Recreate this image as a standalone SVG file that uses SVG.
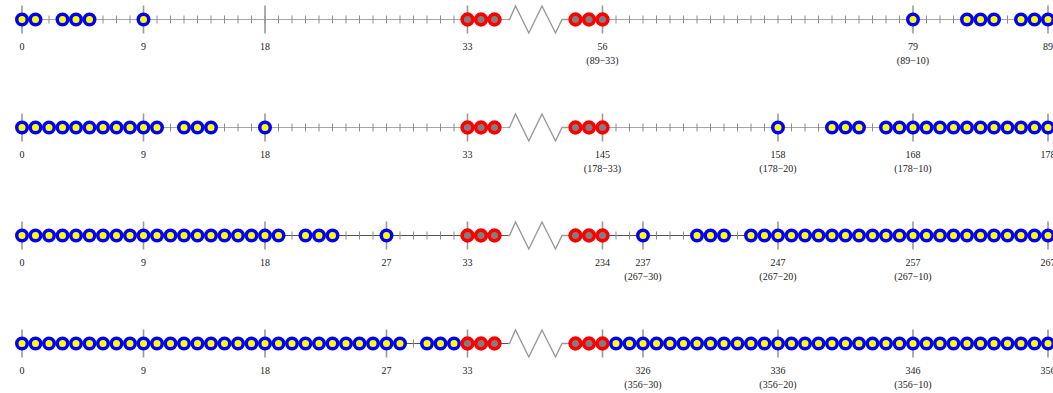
<svg xmlns="http://www.w3.org/2000/svg" xmlns:xlink="http://www.w3.org/1999/xlink" width="1053" height="393" viewBox="0 0 1053 393">
  <style>
    .axis { fill: none; stroke-width: 1; }
    .light { stroke: #a6a6a6; }
    .dark { stroke: #555555; }
    .minor { fill: none; stroke: #8c8c8c; stroke-width: 1; }
    .major { fill: none; stroke: #9a9a9a; stroke-width: 1.6; }
    .zig { fill: none; stroke: #9a9a9a; stroke-width: 1.4; stroke-linejoin: miter; }
    .bc { fill: #ffff00; stroke: #0000ff; stroke-width: 3.5; }
    .rc { fill: #7f7f7f; stroke: #ff0000; stroke-width: 3.6; }
    text { font-family: "Liberation Serif", "Times New Roman", serif; font-size: 10px; fill: #222222; text-anchor: middle; }
  </style>
  <defs>
    <circle id="b" r="5.25" class="bc"/>
    <circle id="r" r="5.4" class="rc"/>
    <!-- minor ticks at every slot: 0..35 on the left, 41..76 on the right (x = 22 + 13.5*slot) -->
    <path id="ticks" class="minor" d="M22,-4v8M35.5,-4v8M49,-4v8M62.5,-4v8M76,-4v8M89.5,-4v8M103,-4v8M116.5,-4v8M130,-4v8M143.5,-4v8M157,-4v8M170.5,-4v8M184,-4v8M197.5,-4v8M211,-4v8M224.5,-4v8M238,-4v8M251.5,-4v8M265,-4v8M278.5,-4v8M292,-4v8M305.5,-4v8M319,-4v8M332.5,-4v8M346,-4v8M359.5,-4v8M373,-4v8M386.5,-4v8M400,-4v8M413.5,-4v8M427,-4v8M440.5,-4v8M454,-4v8M467.5,-4v8M481,-4v8M494.5,-4v8M575.5,-4v8M589,-4v8M602.5,-4v8M616,-4v8M629.5,-4v8M643,-4v8M656.5,-4v8M670,-4v8M683.5,-4v8M697,-4v8M710.5,-4v8M724,-4v8M737.5,-4v8M751,-4v8M764.5,-4v8M778,-4v8M791.5,-4v8M805,-4v8M818.5,-4v8M832,-4v8M845.5,-4v8M859,-4v8M872.5,-4v8M886,-4v8M899.5,-4v8M913,-4v8M926.5,-4v8M940,-4v8M953.5,-4v8M967,-4v8M980.5,-4v8M994,-4v8M1007.5,-4v8M1021,-4v8M1034.5,-4v8M1048,-4v8"/>
    <!-- break symbol between the two halves of the axis -->
    <path id="zig" class="zig" d="M508,0H509.5L515.5,-13.5L528.8,13.5L542,-13.5L555.5,13.5L562,0H568"/>
    <!-- the six red slots around the break: 33,34,35 and 41,42,43 -->
    <g id="reds">
      <use xlink:href="#r" x="467.5"/><use xlink:href="#r" x="481"/><use xlink:href="#r" x="494.5"/>
      <use xlink:href="#r" x="575.5"/><use xlink:href="#r" x="589"/><use xlink:href="#r" x="602.5"/>
    </g>
  </defs>

  <!-- row N = 89 -->
  <g id="row-89" transform="translate(0,19.5)">
    <g id="row-89-axis">
      <path class="axis light" d="M22,0H508M568,0H1053"/>
      <use xlink:href="#zig"/>
      <use xlink:href="#ticks"/>
      <path class="major" d="M22,-14v28M143.5,-14v28M265,-14v28M467.5,-14v28M602.5,-14v28M913,-14v28M1048,-14v28"/>
    </g>
    <g id="row-89-nodes">
      <use xlink:href="#b" x="22"/><use xlink:href="#b" x="35.5"/>
      <use xlink:href="#b" x="62.5"/><use xlink:href="#b" x="76"/><use xlink:href="#b" x="89.5"/>
      <use xlink:href="#b" x="143.5"/>
      <use xlink:href="#reds"/>
      <use xlink:href="#b" x="913"/>
      <use xlink:href="#b" x="967"/><use xlink:href="#b" x="980.5"/><use xlink:href="#b" x="994"/>
      <use xlink:href="#b" x="1021"/><use xlink:href="#b" x="1034.5"/><use xlink:href="#b" x="1048"/>
    </g>
    <g id="row-89-labels">
      <text x="22" y="30.5">0</text>
      <text x="143.5" y="30.5">9</text>
      <text x="265" y="30.5">18</text>
      <text x="467.5" y="30.5">33</text>
      <text x="602.5" y="30.5">56</text>
      <text x="602.5" y="44.5">(89−33)</text>
      <text x="913" y="30.5">79</text>
      <text x="913" y="44.5">(89−10)</text>
      <text x="1048" y="30.5">89</text>
    </g>
  </g>

  <!-- row N = 178 -->
  <g id="row-178" transform="translate(0,127.5)">
    <g id="row-178-axis">
      <path class="axis light" d="M22,0H508M568,0H1053"/>
      <use xlink:href="#zig"/>
      <use xlink:href="#ticks"/>
      <path class="major" d="M22,-14v28M143.5,-14v28M265,-14v28M467.5,-14v28M602.5,-14v28M778,-14v28M913,-14v28M1048,-14v28"/>
    </g>
    <g id="row-178-nodes">
      <use xlink:href="#b" x="22"/><use xlink:href="#b" x="35.5"/><use xlink:href="#b" x="49"/><use xlink:href="#b" x="62.5"/><use xlink:href="#b" x="76"/><use xlink:href="#b" x="89.5"/><use xlink:href="#b" x="103"/><use xlink:href="#b" x="116.5"/><use xlink:href="#b" x="130"/><use xlink:href="#b" x="143.5"/><use xlink:href="#b" x="157"/>
      <use xlink:href="#b" x="184"/><use xlink:href="#b" x="197.5"/><use xlink:href="#b" x="211"/>
      <use xlink:href="#b" x="265"/>
      <use xlink:href="#reds"/>
      <use xlink:href="#b" x="778"/>
      <use xlink:href="#b" x="832"/><use xlink:href="#b" x="845.5"/><use xlink:href="#b" x="859"/>
      <use xlink:href="#b" x="886"/><use xlink:href="#b" x="899.5"/><use xlink:href="#b" x="913"/><use xlink:href="#b" x="926.5"/><use xlink:href="#b" x="940"/><use xlink:href="#b" x="953.5"/><use xlink:href="#b" x="967"/><use xlink:href="#b" x="980.5"/><use xlink:href="#b" x="994"/><use xlink:href="#b" x="1007.5"/><use xlink:href="#b" x="1021"/><use xlink:href="#b" x="1034.5"/><use xlink:href="#b" x="1048"/>
    </g>
    <g id="row-178-labels">
      <text x="22" y="30.5">0</text>
      <text x="143.5" y="30.5">9</text>
      <text x="265" y="30.5">18</text>
      <text x="467.5" y="30.5">33</text>
      <text x="602.5" y="30.5">145</text>
      <text x="602.5" y="44.5">(178−33)</text>
      <text x="778" y="30.5">158</text>
      <text x="778" y="44.5">(178−20)</text>
      <text x="913" y="30.5">168</text>
      <text x="913" y="44.5">(178−10)</text>
      <text x="1048" y="30.5">178</text>
    </g>
  </g>

  <!-- row N = 267 -->
  <g id="row-267" transform="translate(0,235.5)">
    <g id="row-267-axis">
      <path class="axis dark" d="M22,0H508M568,0H1053"/>
      <use xlink:href="#zig"/>
      <use xlink:href="#ticks"/>
      <path class="major" d="M22,-14v28M143.5,-14v28M265,-14v28M386.5,-14v28M467.5,-14v28M602.5,-14v28M643,-14v28M778,-14v28M913,-14v28M1048,-14v28"/>
    </g>
    <g id="row-267-nodes">
      <use xlink:href="#b" x="22"/><use xlink:href="#b" x="35.5"/><use xlink:href="#b" x="49"/><use xlink:href="#b" x="62.5"/><use xlink:href="#b" x="76"/><use xlink:href="#b" x="89.5"/><use xlink:href="#b" x="103"/><use xlink:href="#b" x="116.5"/><use xlink:href="#b" x="130"/><use xlink:href="#b" x="143.5"/><use xlink:href="#b" x="157"/><use xlink:href="#b" x="170.5"/><use xlink:href="#b" x="184"/><use xlink:href="#b" x="197.5"/><use xlink:href="#b" x="211"/><use xlink:href="#b" x="224.5"/><use xlink:href="#b" x="238"/><use xlink:href="#b" x="251.5"/><use xlink:href="#b" x="265"/><use xlink:href="#b" x="278.5"/>
      <use xlink:href="#b" x="305.5"/><use xlink:href="#b" x="319"/><use xlink:href="#b" x="332.5"/>
      <use xlink:href="#b" x="386.5"/>
      <use xlink:href="#reds"/>
      <use xlink:href="#b" x="643"/>
      <use xlink:href="#b" x="697"/><use xlink:href="#b" x="710.5"/><use xlink:href="#b" x="724"/>
      <use xlink:href="#b" x="751"/><use xlink:href="#b" x="764.5"/><use xlink:href="#b" x="778"/><use xlink:href="#b" x="791.5"/><use xlink:href="#b" x="805"/><use xlink:href="#b" x="818.5"/><use xlink:href="#b" x="832"/><use xlink:href="#b" x="845.5"/><use xlink:href="#b" x="859"/><use xlink:href="#b" x="872.5"/><use xlink:href="#b" x="886"/><use xlink:href="#b" x="899.5"/><use xlink:href="#b" x="913"/><use xlink:href="#b" x="926.5"/><use xlink:href="#b" x="940"/><use xlink:href="#b" x="953.5"/><use xlink:href="#b" x="967"/><use xlink:href="#b" x="980.5"/><use xlink:href="#b" x="994"/><use xlink:href="#b" x="1007.5"/><use xlink:href="#b" x="1021"/><use xlink:href="#b" x="1034.5"/><use xlink:href="#b" x="1048"/>
    </g>
    <g id="row-267-labels">
      <text x="22" y="30.5">0</text>
      <text x="143.5" y="30.5">9</text>
      <text x="265" y="30.5">18</text>
      <text x="386.5" y="30.5">27</text>
      <text x="467.5" y="30.5">33</text>
      <text x="602.5" y="30.5">234</text>
      <text x="643" y="30.5">237</text>
      <text x="643" y="44.5">(267−30)</text>
      <text x="778" y="30.5">247</text>
      <text x="778" y="44.5">(267−20)</text>
      <text x="913" y="30.5">257</text>
      <text x="913" y="44.5">(267−10)</text>
      <text x="1048" y="30.5">267</text>
    </g>
  </g>

  <!-- row N = 356 -->
  <g id="row-356" transform="translate(0,343.5)">
    <g id="row-356-axis">
      <path class="axis dark" d="M22,0H508M568,0H1053"/>
      <use xlink:href="#zig"/>
      <use xlink:href="#ticks"/>
      <path class="major" d="M22,-14v28M143.5,-14v28M265,-14v28M386.5,-14v28M467.5,-14v28M602.5,-14v28M643,-14v28M778,-14v28M913,-14v28M1048,-14v28"/>
    </g>
    <g id="row-356-nodes">
      <use xlink:href="#b" x="22"/><use xlink:href="#b" x="35.5"/><use xlink:href="#b" x="49"/><use xlink:href="#b" x="62.5"/><use xlink:href="#b" x="76"/><use xlink:href="#b" x="89.5"/><use xlink:href="#b" x="103"/><use xlink:href="#b" x="116.5"/><use xlink:href="#b" x="130"/><use xlink:href="#b" x="143.5"/><use xlink:href="#b" x="157"/><use xlink:href="#b" x="170.5"/><use xlink:href="#b" x="184"/><use xlink:href="#b" x="197.5"/><use xlink:href="#b" x="211"/><use xlink:href="#b" x="224.5"/><use xlink:href="#b" x="238"/><use xlink:href="#b" x="251.5"/><use xlink:href="#b" x="265"/><use xlink:href="#b" x="278.5"/><use xlink:href="#b" x="292"/><use xlink:href="#b" x="305.5"/><use xlink:href="#b" x="319"/><use xlink:href="#b" x="332.5"/><use xlink:href="#b" x="346"/><use xlink:href="#b" x="359.5"/><use xlink:href="#b" x="373"/><use xlink:href="#b" x="386.5"/><use xlink:href="#b" x="400"/>
      <use xlink:href="#b" x="427"/><use xlink:href="#b" x="440.5"/><use xlink:href="#b" x="454"/>
      <use xlink:href="#reds"/>
      <use xlink:href="#b" x="616"/><use xlink:href="#b" x="629.5"/><use xlink:href="#b" x="643"/><use xlink:href="#b" x="656.5"/><use xlink:href="#b" x="670"/><use xlink:href="#b" x="683.5"/><use xlink:href="#b" x="697"/><use xlink:href="#b" x="710.5"/><use xlink:href="#b" x="724"/><use xlink:href="#b" x="737.5"/><use xlink:href="#b" x="751"/><use xlink:href="#b" x="764.5"/><use xlink:href="#b" x="778"/><use xlink:href="#b" x="791.5"/><use xlink:href="#b" x="805"/><use xlink:href="#b" x="818.5"/><use xlink:href="#b" x="832"/><use xlink:href="#b" x="845.5"/><use xlink:href="#b" x="859"/><use xlink:href="#b" x="872.5"/><use xlink:href="#b" x="886"/><use xlink:href="#b" x="899.5"/><use xlink:href="#b" x="913"/><use xlink:href="#b" x="926.5"/><use xlink:href="#b" x="940"/><use xlink:href="#b" x="953.5"/><use xlink:href="#b" x="967"/><use xlink:href="#b" x="980.5"/><use xlink:href="#b" x="994"/><use xlink:href="#b" x="1007.5"/><use xlink:href="#b" x="1021"/><use xlink:href="#b" x="1034.5"/><use xlink:href="#b" x="1048"/>
    </g>
    <g id="row-356-labels">
      <text x="22" y="30.5">0</text>
      <text x="143.5" y="30.5">9</text>
      <text x="265" y="30.5">18</text>
      <text x="386.5" y="30.5">27</text>
      <text x="467.5" y="30.5">33</text>
      <text x="643" y="30.5">326</text>
      <text x="643" y="44.5">(356−30)</text>
      <text x="778" y="30.5">336</text>
      <text x="778" y="44.5">(356−20)</text>
      <text x="913" y="30.5">346</text>
      <text x="913" y="44.5">(356−10)</text>
      <text x="1048" y="30.5">356</text>
    </g>
  </g>
</svg>
